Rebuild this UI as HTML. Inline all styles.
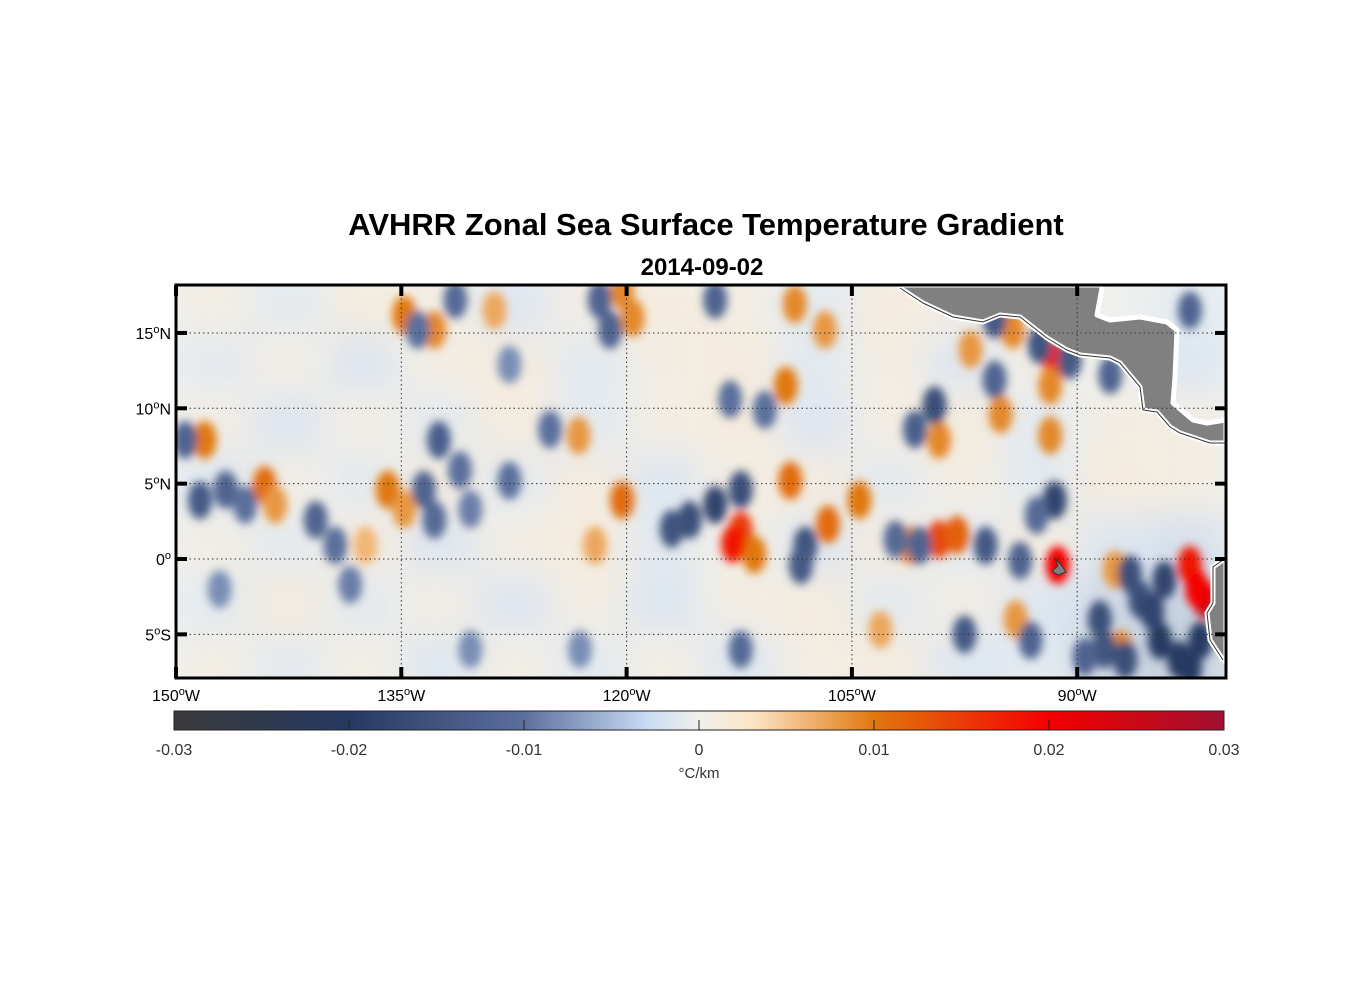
<!DOCTYPE html>
<html><head><meta charset="utf-8"><style>
body{margin:0;background:#fff;font-family:"Liberation Sans",Arial,sans-serif}
svg{display:block}
</style></head><body>
<svg width="1356" height="1000" viewBox="0 0 1356 1000">
<defs>
<clipPath id="mapclip"><rect x="176" y="285" width="1050" height="393"/></clipPath>
<filter id="blur" x="-20%" y="-20%" width="140%" height="140%"><feGaussianBlur stdDeviation="4.5"/></filter>
<filter id="blurbg" x="-20%" y="-20%" width="140%" height="140%"><feGaussianBlur stdDeviation="20"/></filter>
<linearGradient id="cbar" x1="0" x2="1" y1="0" y2="0">
<stop offset="0" stop-color="#3a3a3a"/>
<stop offset="0.167" stop-color="#253a62"/>
<stop offset="0.333" stop-color="#5a6f9c"/>
<stop offset="0.45" stop-color="#c8daf2"/>
<stop offset="0.5" stop-color="#f0f0ec"/>
<stop offset="0.55" stop-color="#fde5c8"/>
<stop offset="0.667" stop-color="#e0780e"/>
<stop offset="0.833" stop-color="#f40000"/>
<stop offset="1" stop-color="#a01030"/>
</linearGradient>
</defs>
<text x="706" y="235" text-anchor="middle" font-size="31" font-weight="bold">AVHRR Zonal Sea Surface Temperature Gradient</text>
<text x="702" y="275" text-anchor="middle" font-size="24" font-weight="bold">2014-09-02</text>
<g clip-path="url(#mapclip)">
<rect x="176" y="285" width="1050" height="393" fill="#eef1f0"/>
<g id="bg" filter="url(#blurbg)" opacity="0.45"></g>
<g id="blobs" filter="url(#blur)"></g>
<path fill="#808080" stroke="#fff" stroke-width="5" stroke-linejoin="round" d="M900,285 L900,288 923,303 953,317 983,322 1000,315 1020,317 1047,338 1067,350 1080,355 1110,358 1120,363 1140,387 1143,410 1157,412 1170,427 1180,433 1210,443 1226,443 1226,420 1207,423 1193,420 1173,403 1175,377 1177,330 1167,322 1140,317 1110,320 1097,315 1102,288 1102,285 Z"/>
<path d="M900,288 923,303 953,317 983,322 1000,315 1020,317 1047,338 1067,350 1080,355 1110,358 1120,363 1140,387 1143,410 1157,412 1170,427 1180,433 1210,443 1226,443" fill="none" stroke="#333" stroke-width="1"/>
<path fill="#808080" stroke="#fff" stroke-width="5" d="M1226,558 L1223,560 1213,567 1213,603 1207,613 1210,640 1223,660 1226,662 Z"/>
<path d="M1223,560 1213,567 1213,603 1207,613 1210,640 1223,660" fill="none" stroke="#333" stroke-width="1"/>
<path fill="#808080" stroke="#333" stroke-width="1" d="M1055,558 1062,566 1066,572 1058,575 1052,571 1058,566 Z"/>
<g id="grid" stroke="#333" stroke-width="1" stroke-dasharray="1.5,3" fill="none"></g>
</g>
<rect x="176" y="285" width="1050" height="393" fill="none" stroke="#000" stroke-width="3"/>
<g id="ticks"></g>
<rect x="174" y="711" width="1050" height="19" fill="url(#cbar)" stroke="#222" stroke-width="1"/>
<g id="cbticks"></g>
<text x="699" y="778" text-anchor="middle" font-size="15" fill="#333">°C/km</text>
</svg>
<script>
const lonTicks=[-150,-135,-120,-105,-90];
const lonTickLabels=["150","135","120","105","90"];
const latTicks=[15,10,5,0,-5];
const latTickLabels=["15","10","5","0","5"];
const latHemi=["N","N","N","",'S'];
const cbTicks=[-0.03,-0.02,-0.01,0,0.01,0.02,0.03];
const cbTickLabels=["-0.03","-0.02","-0.01","0","0.01","0.02","0.03"];
const bgLons=[-147.5,-142.5,-137.5,-132.5,-127.5,-122.5,-117.5,-112.5,-107.5,-102.5,-97.5,-92.5,-87.5,-82.5];
const bgLats=[17,13,9,5,1,-3,-7];
const bgVals=[
[0.002,-0.002,0.003,0.002,-0.003,0.002,0.003,0.002,-0.002,0.003,0.002,0,0,-0.002],
[-0.002,0.002,-0.003,0.002,0.003,-0.002,0.002,0.003,-0.002,0.002,-0.003,0.002,0,-0.003],
[0.002,-0.003,0.002,-0.002,0.003,-0.002,0.002,0.003,-0.003,0.002,0.003,-0.002,0.002,0.002],
[-0.003,0.002,-0.002,0.003,-0.002,0.003,-0.003,0.002,0.003,-0.002,0.002,-0.002,0.003,0.002],
[0.002,-0.002,0.003,-0.003,0.002,0.003,-0.002,0.002,-0.003,0.003,-0.002,0.003,-0.003,-0.004],
[-0.002,0.003,-0.002,0.002,-0.003,0.002,-0.003,0.002,0.003,-0.002,0.002,-0.003,-0.005,-0.006],
[0.002,-0.002,0.002,-0.003,0.002,-0.002,0.002,-0.003,0.002,0.003,-0.003,-0.002,-0.006,-0.007]];
const blobLon=[-148.1,-144.1,-143.4,-135.9,-134.8,-134.8,-132.8,-128.8,-120.3,-119.6,-120.3,-123.2,-112.4,-111.5,-109.1,-109.4,-108.8,-106.8,-106.6,-104.5,-99.2,-101.1,-97.1,-94.3,-91.5,-91.8,-95.1,-91.8,-99.2,-91.3,-87.5,-82.5,-81.5,-87.1,-94.1,-103.1,-122.1,-137.4,-112.9,-98.0,-82.0,
-149.4,-148.4,-146.7,-145.4,-140.7,-139.4,-138.4,-147.1,-132.8,-133.5,-132.5,-131.1,-130.4,-133.9,-131.4,-127.8,-127.8,-125.1,-121.1,-121.8,-114.1,-113.1,-115.8,-114.1,-112.4,-108.1,-108.4,-110.8,-99.5,-100.8,-102.1,-100.5,-96.1,-93.8,-91.5,-92.7,-95.5,-95.5,-92.5,-90.5,-87.8,-82.5,-97.5,-93.1,-88.5,-85.8,-84.5,-83.2,-81.8,-84.2,-88.2,-86.8,-112.4,-123.1,-130.4,-117.0,-85.0,-82.5,-86.5,-89.5];
const blobLat=[7.9,4.9,3.6,4.6,3.3,16.2,15.2,16.5,3.9,16,17.8,8.2,1.9,0.3,5.2,11.5,16.9,15.2,2.3,3.9,1.3,0.9,13.9,15.2,13.2,11.5,9.6,8.2,7.9,-0.4,-0.7,-0.4,-2.7,-6,-4,-4.7,0.9,0.9,1.0,1.6,-2.0,
7.9,3.9,4.6,3.6,2.6,0.9,-1.7,-2,2.6,4.6,7.9,5.9,3.3,15.2,17.2,12.9,5.2,8.6,15.2,17.2,17.2,10.6,2.6,3.6,4.6,0.9,-0.4,9.9,10.2,8.6,1.3,0.9,0.9,-0.1,3.9,2.9,11.9,15.9,14.2,13.2,12.2,16.5,-5,-5.4,-4,-2.7,-5.4,-6.7,-5.4,-1.4,-6,-6.7,-6,-6,-6,2.0,-3.5,-7.2,-1.0,-6.5];
const blobVal=[0.01,0.011,0.008,0.01,0.008,0.01,0.009,0.007,0.011,0.009,0.009,0.008,0.015,0.01,0.011,0.01,0.009,0.008,0.011,0.01,0.014,0.009,0.008,0.009,0.018,0.009,0.009,0.009,0.009,0.02,0.008,0.018,0.025,0.009,0.008,0.007,0.007,0.006,0.018,0.012,0.02,
-0.012,-0.014,-0.012,-0.01,-0.012,-0.01,-0.009,-0.008,-0.011,-0.012,-0.013,-0.01,-0.009,-0.01,-0.011,-0.008,-0.01,-0.01,-0.012,-0.012,-0.012,-0.01,-0.016,-0.018,-0.016,-0.015,-0.014,-0.01,-0.016,-0.013,-0.011,-0.012,-0.014,-0.012,-0.018,-0.011,-0.012,-0.014,-0.015,-0.014,-0.012,-0.012,-0.014,-0.012,-0.016,-0.016,-0.02,-0.02,-0.02,-0.018,-0.015,-0.016,-0.011,-0.008,-0.008,-0.015,-0.018,-0.02,-0.016,-0.012];
const NS="http://www.w3.org/2000/svg";
const x=lon=>176+(lon+150)*15.02;
const y=lat=>559-lat*15.07;
const cbx=v=>174+(v+0.03)/0.06*1050;
const stops=[[-0.03,[58,58,58]],[-0.02,[37,58,98]],[-0.01,[90,111,156]],[-0.003,[200,218,242]],[0,[240,240,236]],[0.003,[253,229,200]],[0.01,[224,120,14]],[0.02,[244,0,0]],[0.03,[160,16,48]]];
function color(v){v=Math.max(-0.03,Math.min(0.03,v));for(let i=0;i<stops.length-1;i++){const a=stops[i],b=stops[i+1];if(v<=b[0]){const t=(v-a[0])/(b[0]-a[0]);const c=a[1].map((q,k)=>Math.round(q+(b[1][k]-q)*t));return`rgb(${c})`;}}return"rgb(160,16,48)";}
function mk(tag,attrs,parent){const e=document.createElementNS(NS,tag);for(const k in attrs)e.setAttribute(k,attrs[k]);parent.appendChild(e);return e;}
const bg=document.getElementById('bg');
bgLats.forEach((la,r)=>bgLons.forEach((lo,c)=>{
 const e=mk('rect',{x:x(lo-2.5),y:y(la+2),width:x(2.5)-x(-2.5),height:y(-2)-y(2),fill:color(bgVals[r][c])},bg);
 
 
}));
const blobs=document.getElementById('blobs');
for(let i=0;i<blobLon.length;i++){
 const e=mk('ellipse',{cx:x(blobLon[i]),cy:y(blobLat[i]),rx:12,ry:19,fill:color(blobVal[i])},blobs);
 
 
}
const grid=document.getElementById('grid');
lonTicks.slice(1).forEach(l=>{const e=mk('line',{x1:x(l),x2:x(l),y1:285,y2:678},grid);});
latTicks.forEach(l=>{const e=mk('line',{x1:176,x2:1226,y1:y(l),y2:y(l)},grid);});
const ticks=document.getElementById('ticks');
lonTicks.forEach((l,i)=>{
 mk('line',{x1:x(l),x2:x(l),y1:285,y2:296,stroke:'#000','stroke-width':4},ticks);
 mk('line',{x1:x(l),x2:x(l),y1:667,y2:678,stroke:'#000','stroke-width':4},ticks);
 const t=mk('text',{x:x(l),y:701,'text-anchor':'middle','font-size':16},ticks);
 
 
 t.innerHTML=lonTickLabels[i]+'<tspan dy="-6" font-size="11">o</tspan><tspan dy="6">W</tspan>';
});
latTicks.forEach((l,i)=>{
 mk('line',{x1:176,x2:187,y1:y(l),y2:y(l),stroke:'#000','stroke-width':4},ticks);
 mk('line',{x1:1215,x2:1226,y1:y(l),y2:y(l),stroke:'#000','stroke-width':4},ticks);
 const t=mk('text',{x:171,y:y(l)+6,'text-anchor':'end','font-size':16},ticks);
 
 
 t.innerHTML=latTickLabels[i]+'<tspan dy="-6" font-size="11">o</tspan><tspan dy="6">'+latHemi[i]+'</tspan>';
});
const cbt=document.getElementById('cbticks');
cbTicks.forEach((v,i)=>{
 if(i>0&&i<cbTicks.length-1)mk('line',{x1:cbx(v),x2:cbx(v),y1:720,y2:730,stroke:'#222','stroke-width':1},cbt);
 const t=mk('text',{x:cbx(v),y:755,'text-anchor':'middle','font-size':16,fill:'#333'},cbt);
 
 
 t.textContent=cbTickLabels[i];
});
</script>
</body></html>
